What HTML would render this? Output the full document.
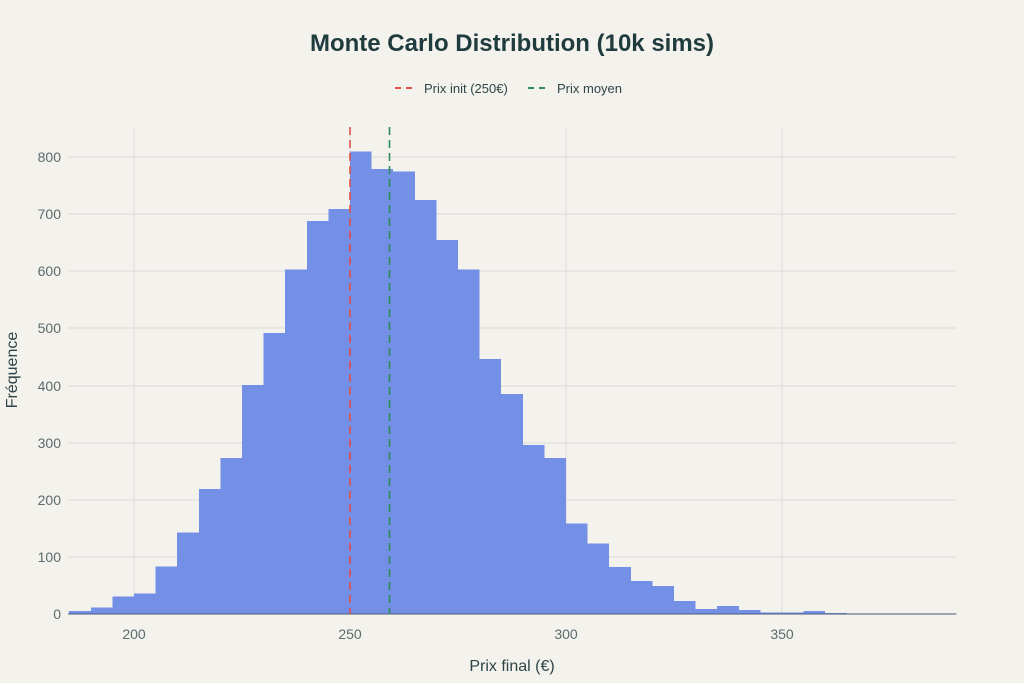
<!DOCTYPE html>
<html><head><meta charset="utf-8"><style>
body{margin:0;background:#f3f2ed;}
svg{display:block;font-family:"Liberation Sans",sans-serif;}
</style></head><body>
<svg width="1024" height="683" viewBox="0 0 1024 683">
<rect width="1024" height="683" fill="#f3f2ed"/>
<text x="512" y="51" text-anchor="middle" font-size="24" font-weight="600" fill="#1f3b3e">Monte Carlo Distribution (10k sims)</text>
<g font-size="13" fill="#2f4548">
<line x1="395" y1="88" x2="417" y2="88" stroke="#e0504a" stroke-width="2" stroke-dasharray="6,5"/>
<text x="424" y="93">Prix init (250€)</text>
<line x1="528" y1="88" x2="550" y2="88" stroke="#2e8a57" stroke-width="2" stroke-dasharray="6,5"/>
<text x="557" y="93">Prix moyen</text>
</g>
<g stroke="#dcdbd6" stroke-width="1">
<line x1="134" y1="127" x2="134" y2="614"/><line x1="350" y1="127" x2="350" y2="614"/>
<line x1="566" y1="127" x2="566" y2="614"/><line x1="782" y1="127" x2="782" y2="614"/>
<line x1="68" y1="157" x2="956" y2="157"/><line x1="68" y1="214" x2="956" y2="214"/>
<line x1="68" y1="271" x2="956" y2="271"/><line x1="68" y1="328" x2="956" y2="328"/>
<line x1="68" y1="386" x2="956" y2="386"/><line x1="68" y1="443" x2="956" y2="443"/>
<line x1="68" y1="500" x2="956" y2="500"/><line x1="68" y1="557" x2="956" y2="557"/>
</g>
<g transform="translate(-730,614) scale(4.32,-0.57125)" fill="#7390e6" shape-rendering="crispEdges">
<rect x="185" y="0" width="5" height="5"/><rect x="190" y="0" width="5" height="11"/>
<rect x="195" y="0" width="5" height="31"/><rect x="200" y="0" width="5" height="36"/>
<rect x="205" y="0" width="5" height="83"/><rect x="210" y="0" width="5" height="143"/>
<rect x="215" y="0" width="5" height="219"/><rect x="220" y="0" width="5" height="273"/>
<rect x="225" y="0" width="5" height="401"/><rect x="230" y="0" width="5" height="492"/>
<rect x="235" y="0" width="5" height="603"/><rect x="240" y="0" width="5" height="688"/>
<rect x="245" y="0" width="5" height="709"/><rect x="250" y="0" width="5" height="810"/>
<rect x="255" y="0" width="5" height="779"/><rect x="260" y="0" width="5" height="775"/>
<rect x="265" y="0" width="5" height="725"/><rect x="270" y="0" width="5" height="655"/>
<rect x="275" y="0" width="5" height="603"/><rect x="280" y="0" width="5" height="446"/>
<rect x="285" y="0" width="5" height="385"/><rect x="290" y="0" width="5" height="296"/>
<rect x="295" y="0" width="5" height="273"/><rect x="300" y="0" width="5" height="158"/>
<rect x="305" y="0" width="5" height="123"/><rect x="310" y="0" width="5" height="82"/>
<rect x="315" y="0" width="5" height="58"/><rect x="320" y="0" width="5" height="49"/>
<rect x="325" y="0" width="5" height="23"/><rect x="330" y="0" width="5" height="9"/>
<rect x="335" y="0" width="5" height="14"/><rect x="340" y="0" width="5" height="7"/>
<rect x="345" y="0" width="5" height="3"/><rect x="350" y="0" width="5" height="3"/>
<rect x="355" y="0" width="5" height="5"/><rect x="360" y="0" width="5" height="2"/>
<rect x="365" y="0" width="25.5" height="1"/>
</g>
<line x1="68" y1="614" x2="956" y2="614" stroke="#4a5a78" stroke-width="1"/>
<line x1="350" y1="127" x2="350" y2="614" stroke="#e0504a" stroke-width="1.6" stroke-dasharray="8,5"/>
<line x1="389.5" y1="127" x2="389.5" y2="614" stroke="#2e8a57" stroke-width="1.6" stroke-dasharray="8,5"/>
<g font-size="14" fill="#5c6b6d" text-anchor="end">
<text x="61" y="162">800</text><text x="61" y="219">700</text><text x="61" y="276">600</text>
<text x="61" y="333">500</text><text x="61" y="391">400</text><text x="61" y="448">300</text>
<text x="61" y="505">200</text><text x="61" y="562">100</text><text x="61" y="619">0</text>
</g>
<g font-size="14" fill="#5c6b6d" text-anchor="middle">
<text x="134" y="639">200</text><text x="350" y="639">250</text>
<text x="566" y="639">300</text><text x="782" y="639">350</text>
</g>
<text x="512" y="671" text-anchor="middle" font-size="16" fill="#2f4548">Prix final (€)</text>
<text transform="translate(17,370) rotate(-90)" text-anchor="middle" font-size="16" fill="#2f4548">Fréquence</text>
</svg>
</body></html>
